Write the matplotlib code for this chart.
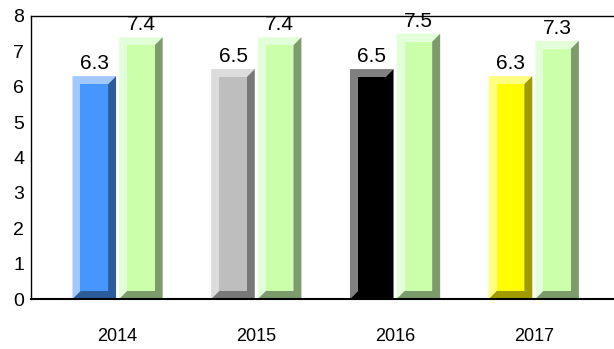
import matplotlib.pyplot as plt
from matplotlib.patches import Polygon
import numpy as np

plt.rcParams['font.family'] = ['Liberation Sans', 'DejaVu Sans']

years = ['2014', '2015', '2016', '2017']
first_vals = [6.3, 6.5, 6.5, 6.3]
second_vals = [7.4, 7.4, 7.5, 7.3]

# (face, light bevel, dark bevel)
first_colors = [('#4696FF', '#A2C9FF', '#2B5C9B'),
                ('#BEBEBE', '#DCDCDC', '#787878'),
                ('#000000', '#808080', '#000000'),
                ('#FFFF00', '#FFFF80', '#A09C00')]
green = ('#CCFFAA', '#E2FFD9', '#7C9C6C')

W, H, DPI = 6.14, 3.49, 100
fig = plt.figure(figsize=(W, H), dpi=DPI)
ax = fig.add_axes([31/614, 50/349, 583/614, 283/349])

xlim = (-0.624, 3.578)
ylim = (0, 8)
ax.set_xlim(*xlim)
ax.set_ylim(*ylim)

# pixels per data unit, for bevel sizes
px_x = 583 / (xlim[1] - xlim[0])
px_y = 283 / (ylim[1] - ylim[0])
bev = 8
bx, by = bev / px_x, bev / px_y

bar_w = 0.314
gap = 0.022


def bevel_bar(x0, h, cols):
    face, light, dark = cols
    x1 = x0 + bar_w
    # left and top (light)
    ax.add_patch(Polygon([(x0, 0), (x0, h), (x1, h), (x1 - bx, h - by),
                          (x0 + bx, h - by), (x0 + bx, by)],
                         closed=True, fc=light, ec='none', zorder=2))
    # right and bottom (dark)
    ax.add_patch(Polygon([(x0, 0), (x1, 0), (x1, h), (x1 - bx, h - by),
                          (x1 - bx, by), (x0 + bx, by)],
                         closed=True, fc=dark, ec='none', zorder=2))
    ax.add_patch(Polygon([(x0 + bx, by), (x1 - bx, by), (x1 - bx, h - by),
                          (x0 + bx, h - by)],
                         closed=True, fc=face, ec='none', zorder=3))
    ax.annotate('%.1f' % h, (x0 + bar_w / 2, h), xytext=(0, 2),
                textcoords='offset points', ha='center', va='bottom',
                fontsize=15, color='black', zorder=4)


x = np.arange(len(years))
for i in range(len(years)):
    bevel_bar(x[i] - gap / 2 - bar_w, first_vals[i], first_colors[i])
    bevel_bar(x[i] + gap / 2, second_vals[i], green)

ax.set_xticks(x)
ax.set_xticklabels(years, fontsize=13)
ax.set_yticks(range(0, 9))
ax.tick_params(axis='both', length=0)
ax.tick_params(axis='x', pad=21)
ax.tick_params(axis='y', labelsize=14, pad=5)

ax.spines['right'].set_visible(False)
ax.spines['bottom'].set_linewidth(1.5)
for s in ['left', 'top']:
    ax.spines[s].set_linewidth(1.0)
ax.spines['top'].set_zorder(1)

fig.savefig('out.png', dpi=DPI)
